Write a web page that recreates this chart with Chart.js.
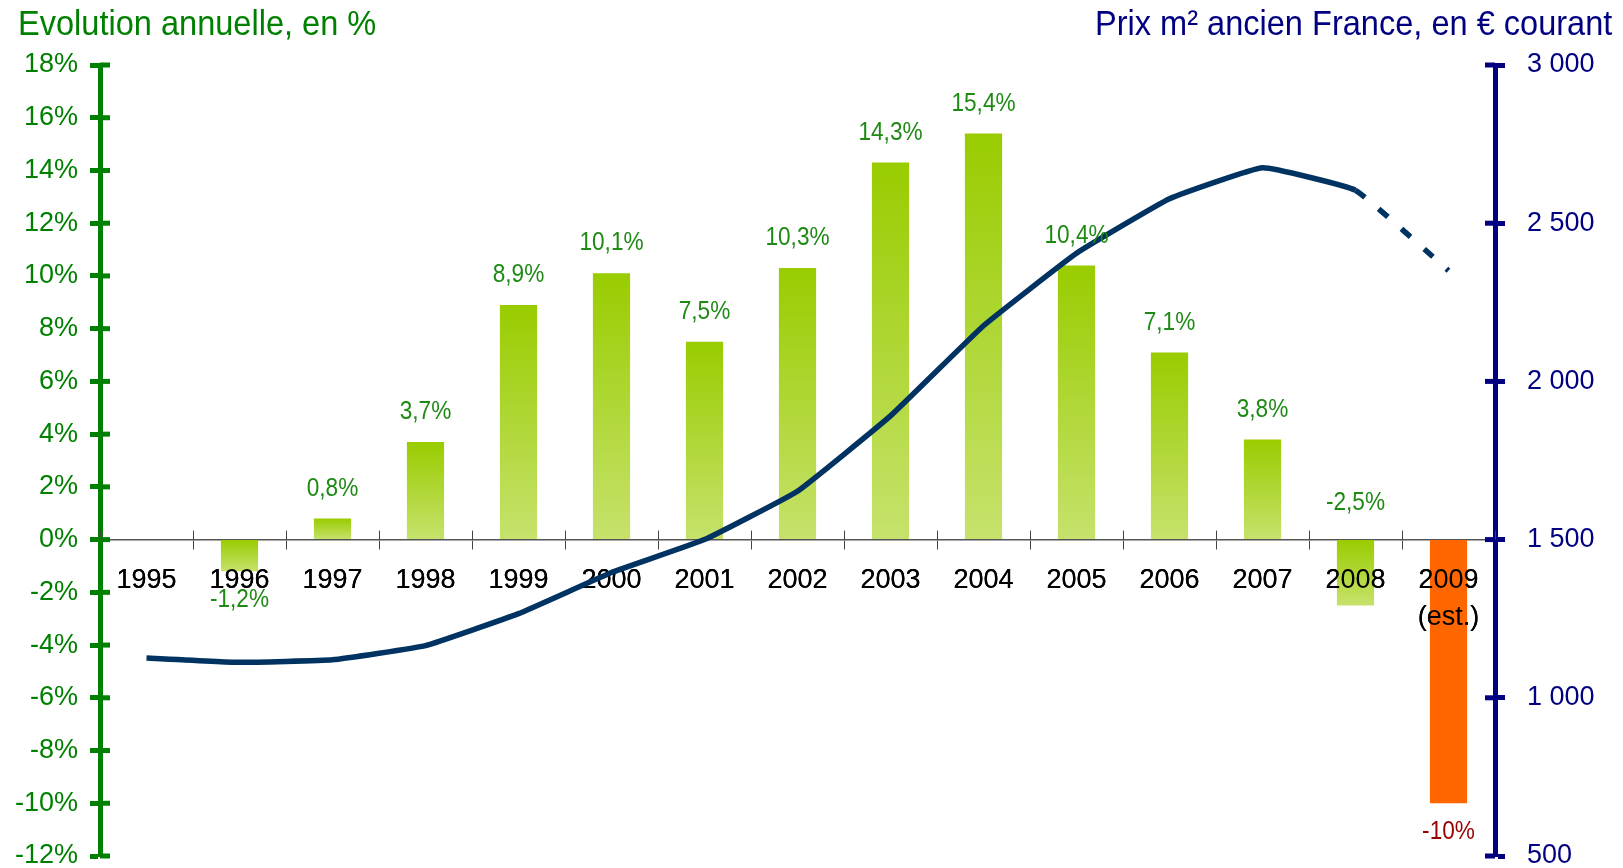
<!DOCTYPE html>
<html>
<head>
<meta charset="utf-8">
<script src="https://cdn.jsdelivr.net/npm/chart.js@4.4.1/dist/chart.umd.min.js"></script>
<style>
  body { margin: 0; background: #fff; }
  #wrap { position: absolute; left: 0; top: 0; width: 1623px; height: 868px; }
  .ttl { position: absolute; top: 3px; font-family: "Liberation Sans", Arial, sans-serif; font-size: 35px; white-space: nowrap; }
  #ttlLeft { left: 18px; color: #008000; transform: scaleX(0.93); transform-origin: left top; }
  #ttlRight { right: 11px; color: #000080; transform: scaleX(0.93); transform-origin: right top; }
</style>
</head>
<body>
<div id="wrap">
  <canvas id="chart"></canvas>
  <div class="ttl" id="ttlLeft">Evolution annuelle, en %</div>
  <div class="ttl" id="ttlRight">Prix m² ancien France, en € courant</div>
</div>
<script>
// categories and series
const years = ['1995', '1996', '1997', '1998', '1999', '2000', '2001', '2002', '2003', '2004', '2005', '2006', '2007', '2008', ['2009', '(est.)']];
const evolution = [null, -1.2, 0.8, 3.7, 8.9, 10.1, 7.5, 10.3, 14.3, 15.4, 10.4, 7.1, 3.8, -2.5, -10];
const prixM2 = [1126, 1112, 1120, 1165, 1266, 1396, 1500, 1653, 1891, 2176, 2405, 2577, 2675, 2604, 2350];
const leftTicks = [-12, 18, 2];     // min, max, step
const rightTicks = [500, 3000, 500];

const lastIdx = years.length - 1;   // 2009 is an estimate
const labelAboveZero = new Set([13]); // the 2008 label sits above the zero line in the original

const sans = '"Liberation Sans", Arial, sans-serif';

function fmtPct(v) {
    return (Number.isInteger(v) ? String(v) : v.toFixed(1).replace('.', ',')) + '%';
}

function barFill(ctx) {
    if (ctx.dataIndex === lastIdx) return '#ff6600';
    const chart = ctx.chart;
    const y = chart.scales.y;
    const v = ctx.raw;
    if (!chart.chartArea || !y || v == null) return '#a8d432';
    const top = y.getPixelForValue(Math.max(v, 0));
    const bottom = y.getPixelForValue(Math.min(v, 0));
    if (!isFinite(top) || !isFinite(bottom) || top === bottom) return '#a8d432';
    const g = chart.ctx.createLinearGradient(0, top, 0, bottom);
    g.addColorStop(0, '#99cc00');
    g.addColorStop(1, '#c6e26c');
    return g;
}

// value labels, drawn in a narrowed sans like the original
const barLabels = {
    id: 'barLabels',
    afterDatasetsDraw(chart) {
        const meta = chart.getDatasetMeta(1);
        const c = chart.ctx;
        c.save();
        c.font = '26px ' + sans;
        c.textAlign = 'center';
        c.textBaseline = 'middle';
        meta.data.forEach((bar, i) => {
            const v = evolution[i];
            if (v == null) return;
            let ty;
            if (v >= 0) ty = bar.y - 30;
            else if (labelAboveZero.has(i)) ty = bar.base - 37;
            else ty = bar.y + 29;
            c.fillStyle = i === lastIdx ? '#990000' : '#1e8a14';
            c.save();
            c.translate(bar.x, ty);
            c.scale(0.87, 1);
            c.fillText(fmtPct(v), 0, 0);
            c.restore();
        });
        c.restore();
    }
};

// year labels sit above the bars but under the price line;
// tick stubs cross the axes on both sides
const axisExtras = {
    id: 'axisExtras',
    beforeDatasetDraw(chart, args) {
        if (args.index !== 0) return;
        chart.scales.x.drawLabels(chart.chartArea);
    },
    beforeDatasetsDraw(chart) {
        const c = chart.ctx;
        const { x, y, y2 } = chart.scales;
        const zero = y.getPixelForValue(0);
        c.save();
        c.lineWidth = 1;
        c.strokeStyle = '#444';
        const step = x.getPixelForValue(1) - x.getPixelForValue(0);
        for (let i = 0; i <= years.length; i++) {
            const px = Math.round(x.getPixelForValue(i) - step / 2) + 0.5;
            c.beginPath();
            c.moveTo(px, zero - 9);
            c.lineTo(px, zero);
            c.stroke();
        }
        c.lineWidth = 5;
        c.strokeStyle = '#008000';
        y.ticks.forEach(t => {
            const py = y.getPixelForValue(t.value);
            c.beginPath();
            c.moveTo(x.left, py);
            c.lineTo(x.left + 10, py);
            c.stroke();
        });
        c.strokeStyle = '#000080';
        y2.ticks.forEach(t => {
            const py = y2.getPixelForValue(t.value);
            c.beginPath();
            c.moveTo(x.right - 10, py);
            c.lineTo(x.right, py);
            c.stroke();
        });
        c.restore();
    }
};

// keep the plot area exactly where the axes sit in the original
function noPad(s) { s.paddingTop = 0; s.paddingBottom = 0; }

new Chart(document.getElementById('chart'), {
    data: {
        labels: years,
        datasets: [
            {
                type: 'line',
                label: 'Prix m²',
                data: prixM2,
                yAxisID: 'y2',
                borderColor: '#003362',
                borderWidth: 5.5,
                pointRadius: 0,
                tension: 0.1,
                borderJoinStyle: 'round',
                segment: {
                    borderDash: ctx => ctx.p1DataIndex === lastIdx ? [12, 18] : undefined
                },
                order: 0
            },
            {
                type: 'bar',
                label: 'Evolution',
                data: evolution,
                yAxisID: 'y',
                backgroundColor: barFill,
                categoryPercentage: 1,
                barPercentage: 0.4,
                order: 1
            }
        ]
    },
    options: {
        responsive: true,
        maintainAspectRatio: false,
        animation: false,
        layout: { padding: { top: 65, bottom: 12, left: 0, right: 0 } },
        plugins: { legend: { display: false }, tooltip: { enabled: false } },
        scales: {
            x: {
                position: { y: 0 },
                afterFit(s) { s.height = 0; s.paddingLeft = 0; s.paddingRight = 0; },
                grid: { offset: true, drawOnChartArea: false, tickLength: 9, tickColor: '#444', tickWidth: 1 },
                border: { color: '#555', width: 1.5 },
                ticks: { color: '#000', font: { family: sans, size: 27, lineHeight: 1.35 }, padding: 14, maxRotation: 0, autoSkip: false }
            },
            y: {
                position: 'left',
                min: leftTicks[0], max: leftTicks[1],
                afterFit(s) { s.width = 100; noPad(s); },
                grid: { drawOnChartArea: false, tickColor: '#008000', tickWidth: 5, tickLength: 10 },
                border: { color: '#008000', width: 5 },
                ticks: { stepSize: leftTicks[2], color: '#008000', padding: 12, font: { family: sans, size: 27, lineHeight: 1 }, callback: v => v + '%' }
            },
            y2: {
                position: 'right',
                min: rightTicks[0], max: rightTicks[1],
                afterFit(s) { s.width = 128; noPad(s); },
                grid: { drawOnChartArea: false, tickColor: '#000080', tickWidth: 5, tickLength: 10 },
                border: { color: '#000080', width: 5 },
                ticks: { stepSize: rightTicks[2], color: '#000080', padding: 22, font: { family: sans, size: 27, lineHeight: 1 },
                    callback: v => v >= 1000 ? Math.floor(v / 1000) + ' ' + String(v % 1000).padStart(3, '0') : String(v) }
            }
        }
    },
    plugins: [barLabels, axisExtras]
});
</script>
</body>
</html>
